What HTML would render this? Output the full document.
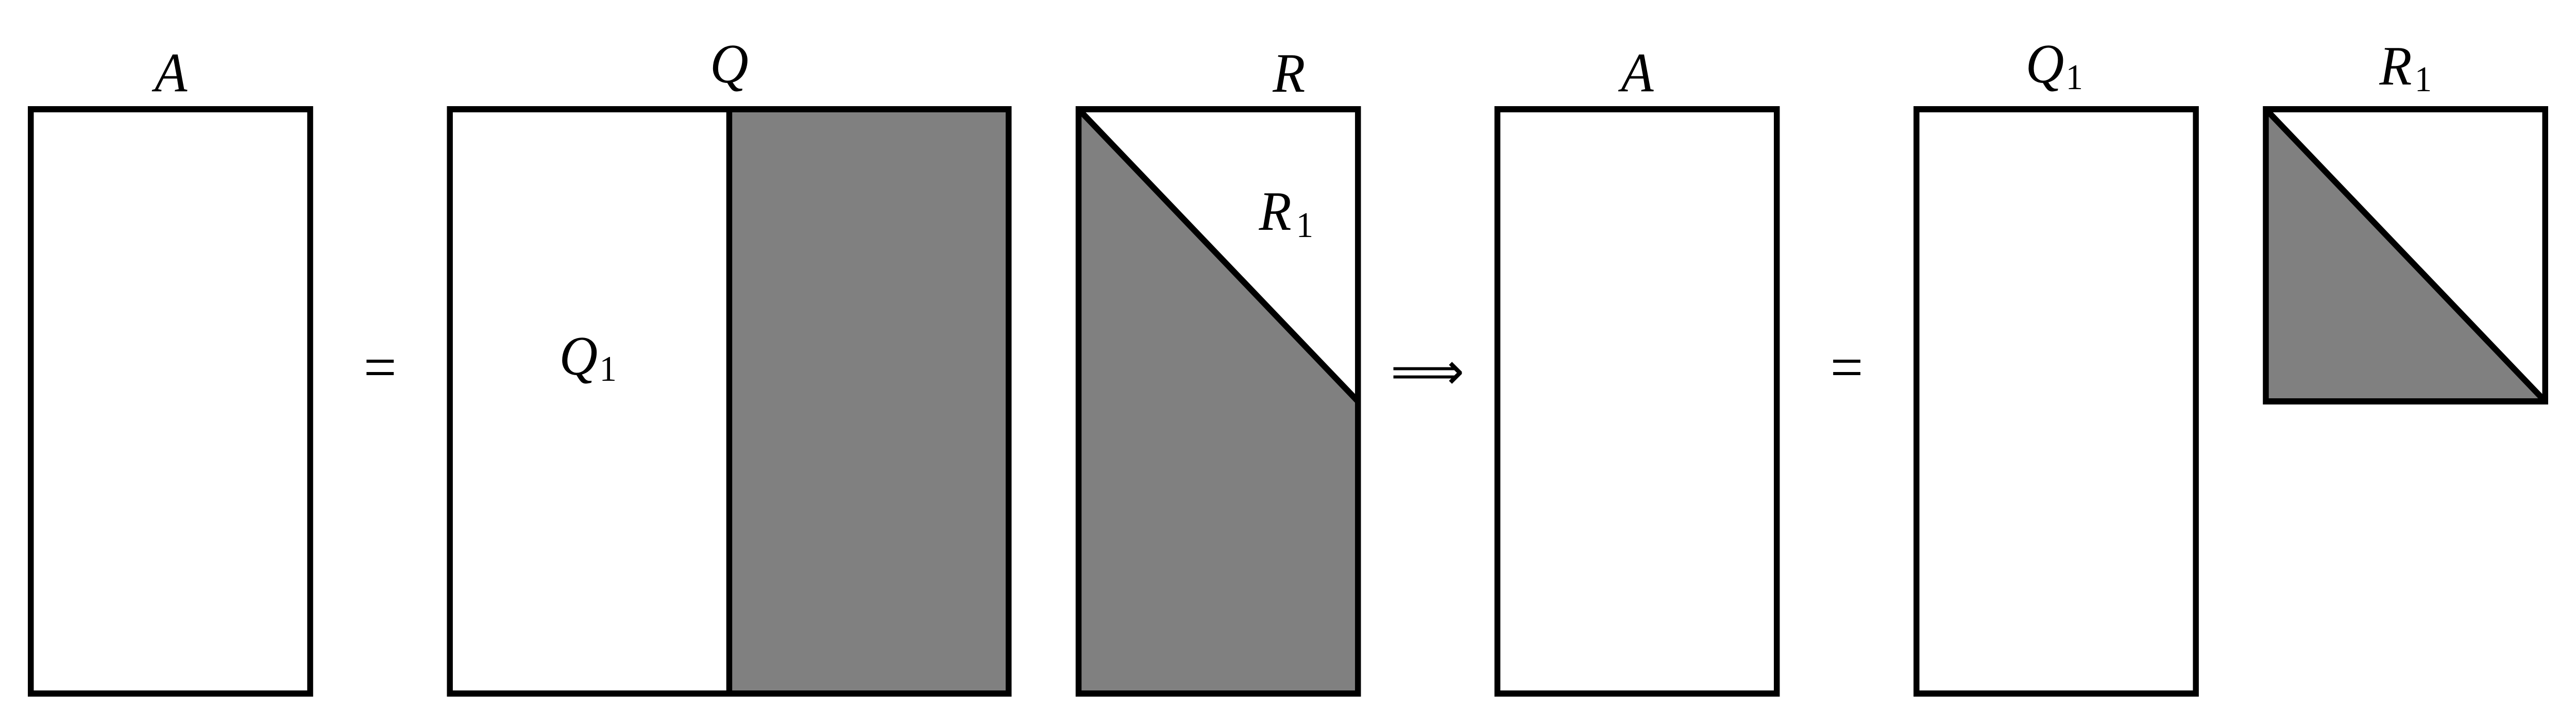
<!DOCTYPE html>
<html>
<head>
<meta charset="utf-8">
<style>
  html, body { margin: 0; padding: 0; background: #ffffff; width: 100%; height: 100%; overflow: hidden; }
  svg { display: block; width: 100vw; height: 100vh; }
  .lbl { font-family: "Liberation Serif", "DejaVu Serif", serif; font-style: italic; font-size: 108px; fill: #000; }
  .sub { font-family: "Liberation Serif", "DejaVu Serif", serif; font-style: normal; font-size: 70px; fill: #000; }
  .op { font-family: "Liberation Serif", "DejaVu Serif", serif; font-size: 120px; fill: #000; }
  .arr { font-family: "DejaVu Sans", "Liberation Sans", sans-serif; font-size: 100px; fill: #000; }
</style>
</head>
<body>
<svg viewBox="0 0 5228 1409" preserveAspectRatio="none" xmlns="http://www.w3.org/2000/svg">
  <rect x="0" y="0" width="5228" height="1409" fill="#ffffff"/>

  <!-- A (left) -->
  <rect x="62.5" y="212" width="567" height="1134" fill="none" stroke="#000" stroke-width="12"/>
  <text class="lbl" x="347" y="177" text-anchor="middle">A</text>

  <!-- = -->
  <text class="op" x="771.5" y="753" text-anchor="middle" textLength="67" lengthAdjust="spacingAndGlyphs">=</text>

  <!-- Q -->
  <rect x="1480" y="212" width="567" height="1134" fill="#808080"/>
  <rect x="913" y="212" width="1134" height="1134" fill="none" stroke="#000" stroke-width="12"/>
  <line x1="1480" y1="212" x2="1480" y2="1346" stroke="#000" stroke-width="12"/>
  <text class="lbl" x="1480" y="160" text-anchor="middle">Q</text>
  <text class="lbl" x="1174" y="727" text-anchor="middle">Q</text>
  <text class="sub" x="1234" y="739" text-anchor="middle">1</text>

  <!-- R -->
  <polygon points="2189,212 2756,779 2756,1346 2189,1346" fill="#808080"/>
  <rect x="2189" y="212" width="567" height="1134" fill="none" stroke="#000" stroke-width="12"/>
  <line x1="2189" y1="212" x2="2756" y2="779" stroke="#000" stroke-width="12"/>
  <text class="lbl" x="2616" y="178" text-anchor="middle">R</text>
  <text class="lbl" x="2588" y="446" text-anchor="middle">R</text>
  <text class="sub" x="2648" y="460" text-anchor="middle">1</text>

  <!-- implies arrow -->
  <text class="arr" x="2897" y="755" text-anchor="middle" textLength="150" lengthAdjust="spacingAndGlyphs">⟹</text>

  <!-- A (right) -->
  <rect x="3039" y="212" width="567" height="1134" fill="none" stroke="#000" stroke-width="12"/>
  <text class="lbl" x="3323" y="177" text-anchor="middle">A</text>

  <!-- = -->
  <text class="op" x="3748" y="753" text-anchor="middle" textLength="67" lengthAdjust="spacingAndGlyphs">=</text>

  <!-- Q1 -->
  <rect x="3889.5" y="212" width="567" height="1134" fill="none" stroke="#000" stroke-width="12"/>
  <text class="lbl" x="4150" y="160" text-anchor="middle">Q</text>
  <text class="sub" x="4210" y="173" text-anchor="middle">1</text>

  <!-- R1 -->
  <polygon points="4598.5,212 5165.5,779 4598.5,779" fill="#808080"/>
  <rect x="4598.5" y="212" width="567" height="567" fill="none" stroke="#000" stroke-width="12"/>
  <line x1="4598.5" y1="212" x2="5165.5" y2="779" stroke="#000" stroke-width="12"/>
  <text class="lbl" x="4862" y="164" text-anchor="middle">R</text>
  <text class="sub" x="4918" y="177" text-anchor="middle">1</text>
</svg>
</body>
</html>
